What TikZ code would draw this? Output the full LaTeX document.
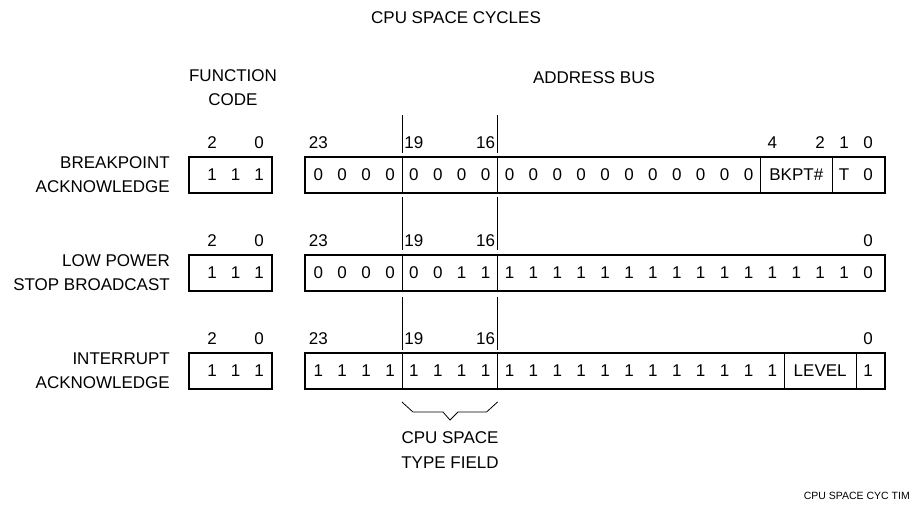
\documentclass[tikz,border=0pt]{standalone}
\usepackage{fontspec}
\setmainfont{Liberation Sans}
\usetikzlibrary{positioning, calc}

\tikzset{
  lbl/.style={font=\fontsize{17}{24}\selectfont, inner sep=0pt},
  regbox/.style={draw, line width=1.6pt, inner sep=0pt, minimum height=36pt},
  divider/.style={line width=0.8pt},
  guide/.style={line width=0.8pt},
}
% centre of address bit #1, and cut between bit #1+1 and #1
\newcommand{\bitx}[1]{868-23.9*#1}
\newcommand{\cutx}[1]{868-23.9*(#1+0.5)}

\begin{document}
\begin{tikzpicture}[x=1pt, y=-1pt]
    \useasboundingbox (0,0) rectangle (913,507);

    % Headings
    \node[lbl] (title) at (456,18) {CPU SPACE CYCLES};
    \node[lbl, align=center] (fchead) at (233,88) {FUNCTION\\CODE};
    \node[lbl] (abhead) at (594,78) {ADDRESS BUS};

    % Cuts of the type field
    \coordinate (cutA) at ({\cutx{19}},0);
    \coordinate (cutB) at ({\cutx{15}},0);

    % Breakpoint acknowledge
    \node[lbl, align=right, anchor=east] (bkname) at (170,175) {BREAKPOINT\\ACKNOWLEDGE};
    \node[regbox, minimum width=83pt] (bkfc) at (230.5,175) {};
    \node[regbox, minimum width=580pt] (bkab) at (595,175) {};
    \foreach \x [count=\i] in {212,235.5,259}
        \node[lbl] (bkfc\i) at (\x,175) {1};
    \foreach \b in {5,...,23}
        \node[lbl] (bkb\b) at ({\bitx{\b}},175) {0};
    \node[lbl] (bkpt) at ({\bitx{3}},175) {BKPT\#};
    \node[lbl] (bkt) at ({\bitx{1}},175) {T};
    \node[lbl] (bkb0) at ({\bitx{0}},175) {0};
    \foreach \b in {19,15,4,1}
        \draw[divider] ({\cutx{\b}},0 |- bkab.north) -- ({\cutx{\b}},0 |- bkab.south);
    \node[lbl] (bkn2) at (212,143) {2};
    \node[lbl] (bkn0) at (259,143) {0};
    \foreach \b in {23,19,16,4,2,1,0}
        \node[lbl] (bkl\b) at ({\bitx{\b}},143) {\b};

    % Low power stop broadcast
    \node[lbl, align=right, anchor=east] (lpname) at (170,273) {LOW POWER\\STOP BROADCAST};
    \node[regbox, minimum width=83pt] (lpfc) at (230.5,273) {};
    \node[regbox, minimum width=580pt] (lpab) at (595,273) {};
    \foreach \x [count=\i] in {212,235.5,259}
        \node[lbl] (lpfc\i) at (\x,273) {1};
    \foreach \b in {18,...,23}
        \node[lbl] (lpb\b) at ({\bitx{\b}},273) {0};
    \foreach \b in {1,...,17}
        \node[lbl] (lpb\b) at ({\bitx{\b}},273) {1};
    \node[lbl] (lpb0) at ({\bitx{0}},273) {0};
    \foreach \b in {19,15}
        \draw[divider] ({\cutx{\b}},0 |- lpab.north) -- ({\cutx{\b}},0 |- lpab.south);
    \node[lbl] (lpn2) at (212,241) {2};
    \node[lbl] (lpn0) at (259,241) {0};
    \foreach \b in {23,19,16,0}
        \node[lbl] (lpl\b) at ({\bitx{\b}},241) {\b};

    % Interrupt acknowledge
    \node[lbl, align=right, anchor=east] (inname) at (170,371) {INTERRUPT\\ACKNOWLEDGE};
    \node[regbox, minimum width=83pt] (infc) at (230.5,371) {};
    \node[regbox, minimum width=580pt] (inab) at (595,371) {};
    \foreach \x [count=\i] in {212,235.5,259}
        \node[lbl] (infc\i) at (\x,371) {1};
    \foreach \b in {4,...,23}
        \node[lbl] (inb\b) at ({\bitx{\b}},371) {1};
    \node[lbl] (level) at ({\bitx{2}},371) {LEVEL};
    \node[lbl] (inb0) at ({\bitx{0}},371) {1};
    \foreach \b in {19,15,3,0}
        \draw[divider] ({\cutx{\b}},0 |- inab.north) -- ({\cutx{\b}},0 |- inab.south);
    \node[lbl] (inn2) at (212,339) {2};
    \node[lbl] (inn0) at (259,339) {0};
    \foreach \b in {23,19,16,0}
        \node[lbl] (inl\b) at ({\bitx{\b}},339) {\b};

    % Guide lines between rows
    \foreach \c in {cutA,cutB} {
        \draw[guide] (\c |- 0,115) -- (\c |- 0,153);
        \draw[guide] (\c |- 0,197) -- (\c |- 0,250);
        \draw[guide] (\c |- 0,297) -- (\c |- 0,350);
    }

    % Type field brace
    \coordinate (tip) at (450,420);
    \draw[guide] (cutA |- 0,402) -- ++(11,10) -- (443,412) -- (tip)
        -- (458,412) -- ($(cutB |- 0,412)+(-11,0)$) -- (cutB |- 0,402);
    \node[lbl, align=center, anchor=north, font=\fontsize{17}{25}\selectfont] (typefield) at (450,431) {CPU SPACE\\TYPE FIELD};

    % Figure tag
    \node[font=\fontsize{10.5}{12}\selectfont, inner sep=0pt, anchor=east] (figtag) at (910,496) {CPU SPACE CYC TIM};
\end{tikzpicture}
\end{document}
